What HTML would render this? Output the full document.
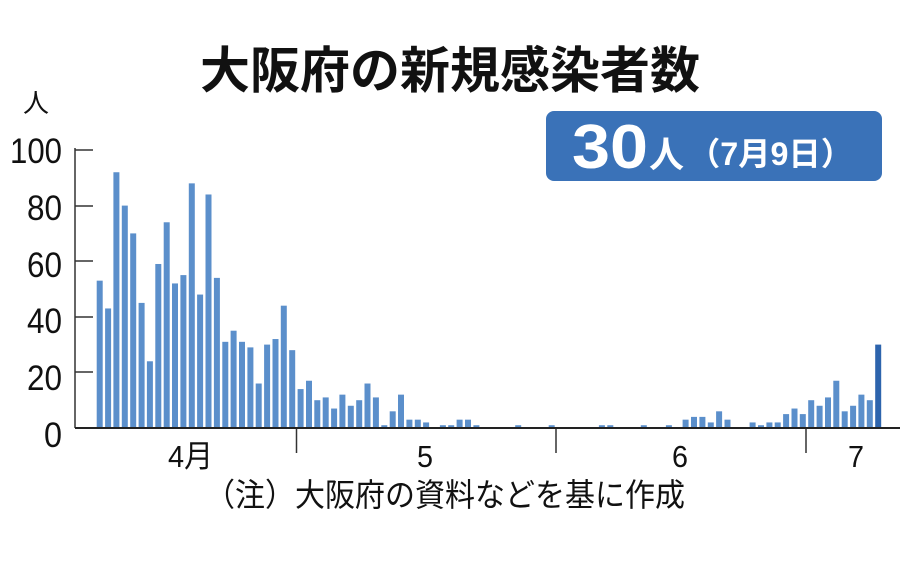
<!DOCTYPE html>
<html><head><meta charset="utf-8"><style>
html,body{margin:0;padding:0;background:#fff;}
svg{display:block;}
text{font-family:"Liberation Sans","Noto Sans CJK JP",sans-serif;}
</style></head><body>
<svg width="900" height="561" viewBox="0 0 900 561">
<text x="450" y="88" text-anchor="middle" font-size="50" font-weight="bold" fill="#111" textLength="500" lengthAdjust="spacingAndGlyphs">大阪府の新規感染者数</text>
<rect x="546" y="111" width="336" height="70" rx="8" fill="#3a72b8"/>
<text x="572" y="168" font-size="62" font-weight="bold" fill="#fff" textLength="76" lengthAdjust="spacingAndGlyphs">30</text>
<text x="649" y="167" font-size="36" font-weight="bold" fill="#fff" textLength="35" lengthAdjust="spacingAndGlyphs">人</text>
<text x="688" y="165" font-size="32" font-weight="bold" fill="#fff" textLength="165" lengthAdjust="spacingAndGlyphs">（7月9日）</text>
<text x="36" y="112" text-anchor="middle" font-size="26" fill="#111">人</text>
<g font-size="35" fill="#111">
<text x="10" y="163" textLength="52" lengthAdjust="spacingAndGlyphs">100</text>
<text x="27" y="220" textLength="35" lengthAdjust="spacingAndGlyphs">80</text>
<text x="27" y="277" textLength="35" lengthAdjust="spacingAndGlyphs">60</text>
<text x="27" y="333" textLength="35" lengthAdjust="spacingAndGlyphs">40</text>
<text x="27" y="390" textLength="35" lengthAdjust="spacingAndGlyphs">20</text>
<text x="44" y="447" textLength="18" lengthAdjust="spacingAndGlyphs">0</text>
</g>
<g stroke="#333" stroke-width="1.5">
<line x1="75" y1="148" x2="75" y2="428"/>
<line x1="75" y1="150" x2="93" y2="150"/><line x1="75" y1="206" x2="93" y2="206"/><line x1="75" y1="261" x2="93" y2="261"/><line x1="75" y1="317" x2="93" y2="317"/><line x1="75" y1="372" x2="93" y2="372"/>
<line x1="296.5" y1="428" x2="296.5" y2="453"/><line x1="556" y1="428" x2="556" y2="453"/><line x1="806" y1="428" x2="806" y2="453"/>
</g>
<g transform="translate(0,428) scale(1,-2.78)" fill="#5b8fcb">
<rect x="96.7" width="6" height="53"/><rect x="105.1" width="6" height="43"/><rect x="113.4" width="6" height="92"/><rect x="121.8" width="6" height="80"/><rect x="130.2" width="6" height="70"/><rect x="138.6" width="6" height="45"/><rect x="146.9" width="6" height="24"/><rect x="155.3" width="6" height="59"/><rect x="163.7" width="6" height="74"/><rect x="172.0" width="6" height="52"/><rect x="180.4" width="6" height="55"/><rect x="188.8" width="6" height="88"/><rect x="197.1" width="6" height="48"/><rect x="205.5" width="6" height="84"/><rect x="213.9" width="6" height="54"/><rect x="222.3" width="6" height="31"/><rect x="230.6" width="6" height="35"/><rect x="239.0" width="6" height="31"/><rect x="247.4" width="6" height="29"/><rect x="255.7" width="6" height="16"/><rect x="264.1" width="6" height="30"/><rect x="272.5" width="6" height="32"/><rect x="280.8" width="6" height="44"/><rect x="289.2" width="6" height="28"/>
<rect x="297.6" width="6" height="14"/><rect x="306.0" width="6" height="17"/><rect x="314.3" width="6" height="10"/><rect x="322.7" width="6" height="11"/><rect x="331.1" width="6" height="7"/><rect x="339.4" width="6" height="12"/><rect x="347.8" width="6" height="8"/><rect x="356.2" width="6" height="10"/><rect x="364.5" width="6" height="16"/><rect x="372.9" width="6" height="11"/><rect x="381.3" width="6" height="1"/><rect x="389.7" width="6" height="6"/><rect x="398.0" width="6" height="12"/><rect x="406.4" width="6" height="3"/><rect x="414.8" width="6" height="3"/><rect x="423.1" width="6" height="2"/><rect x="439.9" width="6" height="1"/><rect x="448.2" width="6" height="1"/><rect x="456.6" width="6" height="3"/><rect x="465.0" width="6" height="3"/><rect x="473.4" width="6" height="1"/><rect x="515.2" width="6" height="1"/><rect x="548.7" width="6" height="1"/>
<rect x="598.9" width="6" height="1"/><rect x="607.3" width="6" height="1"/><rect x="640.8" width="6" height="1"/><rect x="665.9" width="6" height="1"/><rect x="682.6" width="6" height="3"/><rect x="691.0" width="6" height="4"/><rect x="699.4" width="6" height="4"/><rect x="707.8" width="6" height="2"/><rect x="716.1" width="6" height="6"/><rect x="724.5" width="6" height="3"/><rect x="749.6" width="6" height="2"/><rect x="758.0" width="6" height="1"/><rect x="766.4" width="6" height="2"/><rect x="774.7" width="6" height="2"/><rect x="783.1" width="6" height="5"/><rect x="791.5" width="6" height="7"/><rect x="799.8" width="6" height="5"/>
<rect x="808.2" width="6" height="10"/><rect x="816.6" width="6" height="8"/><rect x="825.0" width="6" height="11"/><rect x="833.3" width="6" height="17"/><rect x="841.7" width="6" height="6"/><rect x="850.1" width="6" height="8"/><rect x="858.4" width="6" height="12"/><rect x="866.8" width="6" height="10"/>
<rect x="875.2" width="6" height="30" fill="#2d64ad"/>
</g>
<line x1="75" y1="428" x2="900" y2="428" stroke="#222" stroke-width="2"/>
<g font-size="31" fill="#111">
<text x="168" y="467" textLength="45" lengthAdjust="spacingAndGlyphs">4月</text>
<text x="417" y="467" textLength="16" lengthAdjust="spacingAndGlyphs">5</text>
<text x="672" y="467" textLength="16" lengthAdjust="spacingAndGlyphs">6</text>
<text x="848" y="467" textLength="16" lengthAdjust="spacingAndGlyphs">7</text>
</g>
<text x="205" y="506" font-size="32" fill="#111" textLength="480" lengthAdjust="spacingAndGlyphs">（注）大阪府の資料などを基に作成</text>
</svg>
</body></html>
